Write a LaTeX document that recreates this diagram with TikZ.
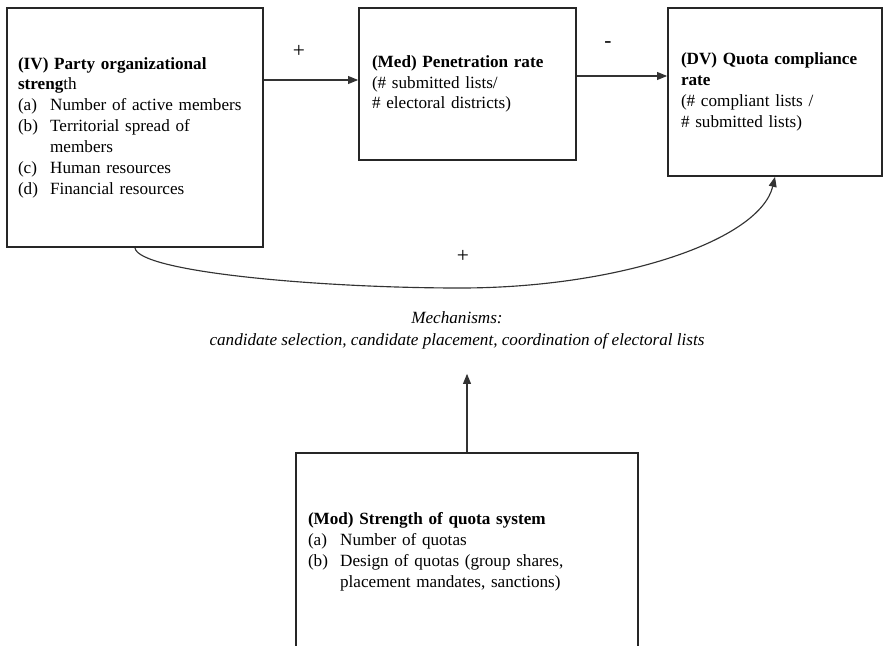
\documentclass[tikz,border=0pt]{standalone}
\usepackage{fontspec}
\setmainfont{Liberation Serif}
\usetikzlibrary{arrows.meta}
\newcommand{\itm}[1]{\makebox[22.5pt][l]{#1}}

\begin{document}
\begin{tikzpicture}[x=0.7pt,y=-0.7pt,
        box/.style={draw=black!85,line width=1.2pt,align=left,inner ysep=0pt,
          font=\fontsize{12}{14.6}\selectfont},
        arr/.style={draw=black!80,line width=0.8pt,-{Triangle[length=7pt,width=5.5pt]}},
        sign/.style={font=\fontsize{15}{16}\selectfont},
        mechtext/.style={align=center,font=\itshape\fontsize{12}{15.4}\selectfont}]
        \useasboundingbox (0,0) rectangle (883,646);

        \node[box,minimum height=167.3pt,text width=163.8pt,inner xsep=7.7pt] (iv) at (135,127.5) {
          \textbf{(IV) Party organizational}\\
          \textbf{streng}th\\
          \itm{(a)}Number of active members\\
          \itm{(b)}Territorial spread of\\
          \itm{}members\\
          \itm{(c)}Human resources\\
          \itm{(d)}Financial resources\\[-4pt]};
        \node[box,minimum height=106.4pt,text width=133.7pt,inner xsep=9.1pt] (med) at (467.5,84) {
          \textbf{(Med) Penetration rate}\\
          (\# submitted lists/\\
          \# electoral districts)};
        \node[box,minimum height=117.6pt,text width=131.6pt,inner xsep=9.1pt] (dv) at (775,92) {
          \textbf{(DV) Quota compliance}\\
          \textbf{rate}\\
          (\# compliant lists /\\
          \# submitted lists)};
        \node[box,minimum height=138.6pt,text width=222.6pt,inner xsep=8.4pt] (mod) at (467,552) {
          \textbf{(Mod) Strength of quota system}\\
          \itm{(a)}Number of quotas\\
          \itm{(b)}Design of quotas (group shares,\\
          \itm{}placement mandates, sanctions)};

        \node[mechtext] (mech) at (457,330) {Mechanisms:\\
          candidate selection, candidate placement, coordination of electoral lists};

        \coordinate (y1) at (0,80);
        \coordinate (y2) at (0,76);
        \coordinate (low) at (460,288);
        \draw[arr] (iv.east |- y1) -- (med.west |- y1);
        \draw[arr] (med.east |- y2) -- (dv.west |- y2);
        \draw[arr] (iv.south) .. controls (138,272) and (320,288) .. (low)
          .. controls (620,288) and (760,240) .. (dv.south);
        \draw[arr,shorten >=14pt] (mod.north) -- (mod.north |- mech.south);

        \node[sign] (p1) at (299,51) {+};
        \node[sign] (m1) at (608,45) {-};
        \node[sign] (p2) at (463,256) {+};
      \end{tikzpicture}
\end{document}
